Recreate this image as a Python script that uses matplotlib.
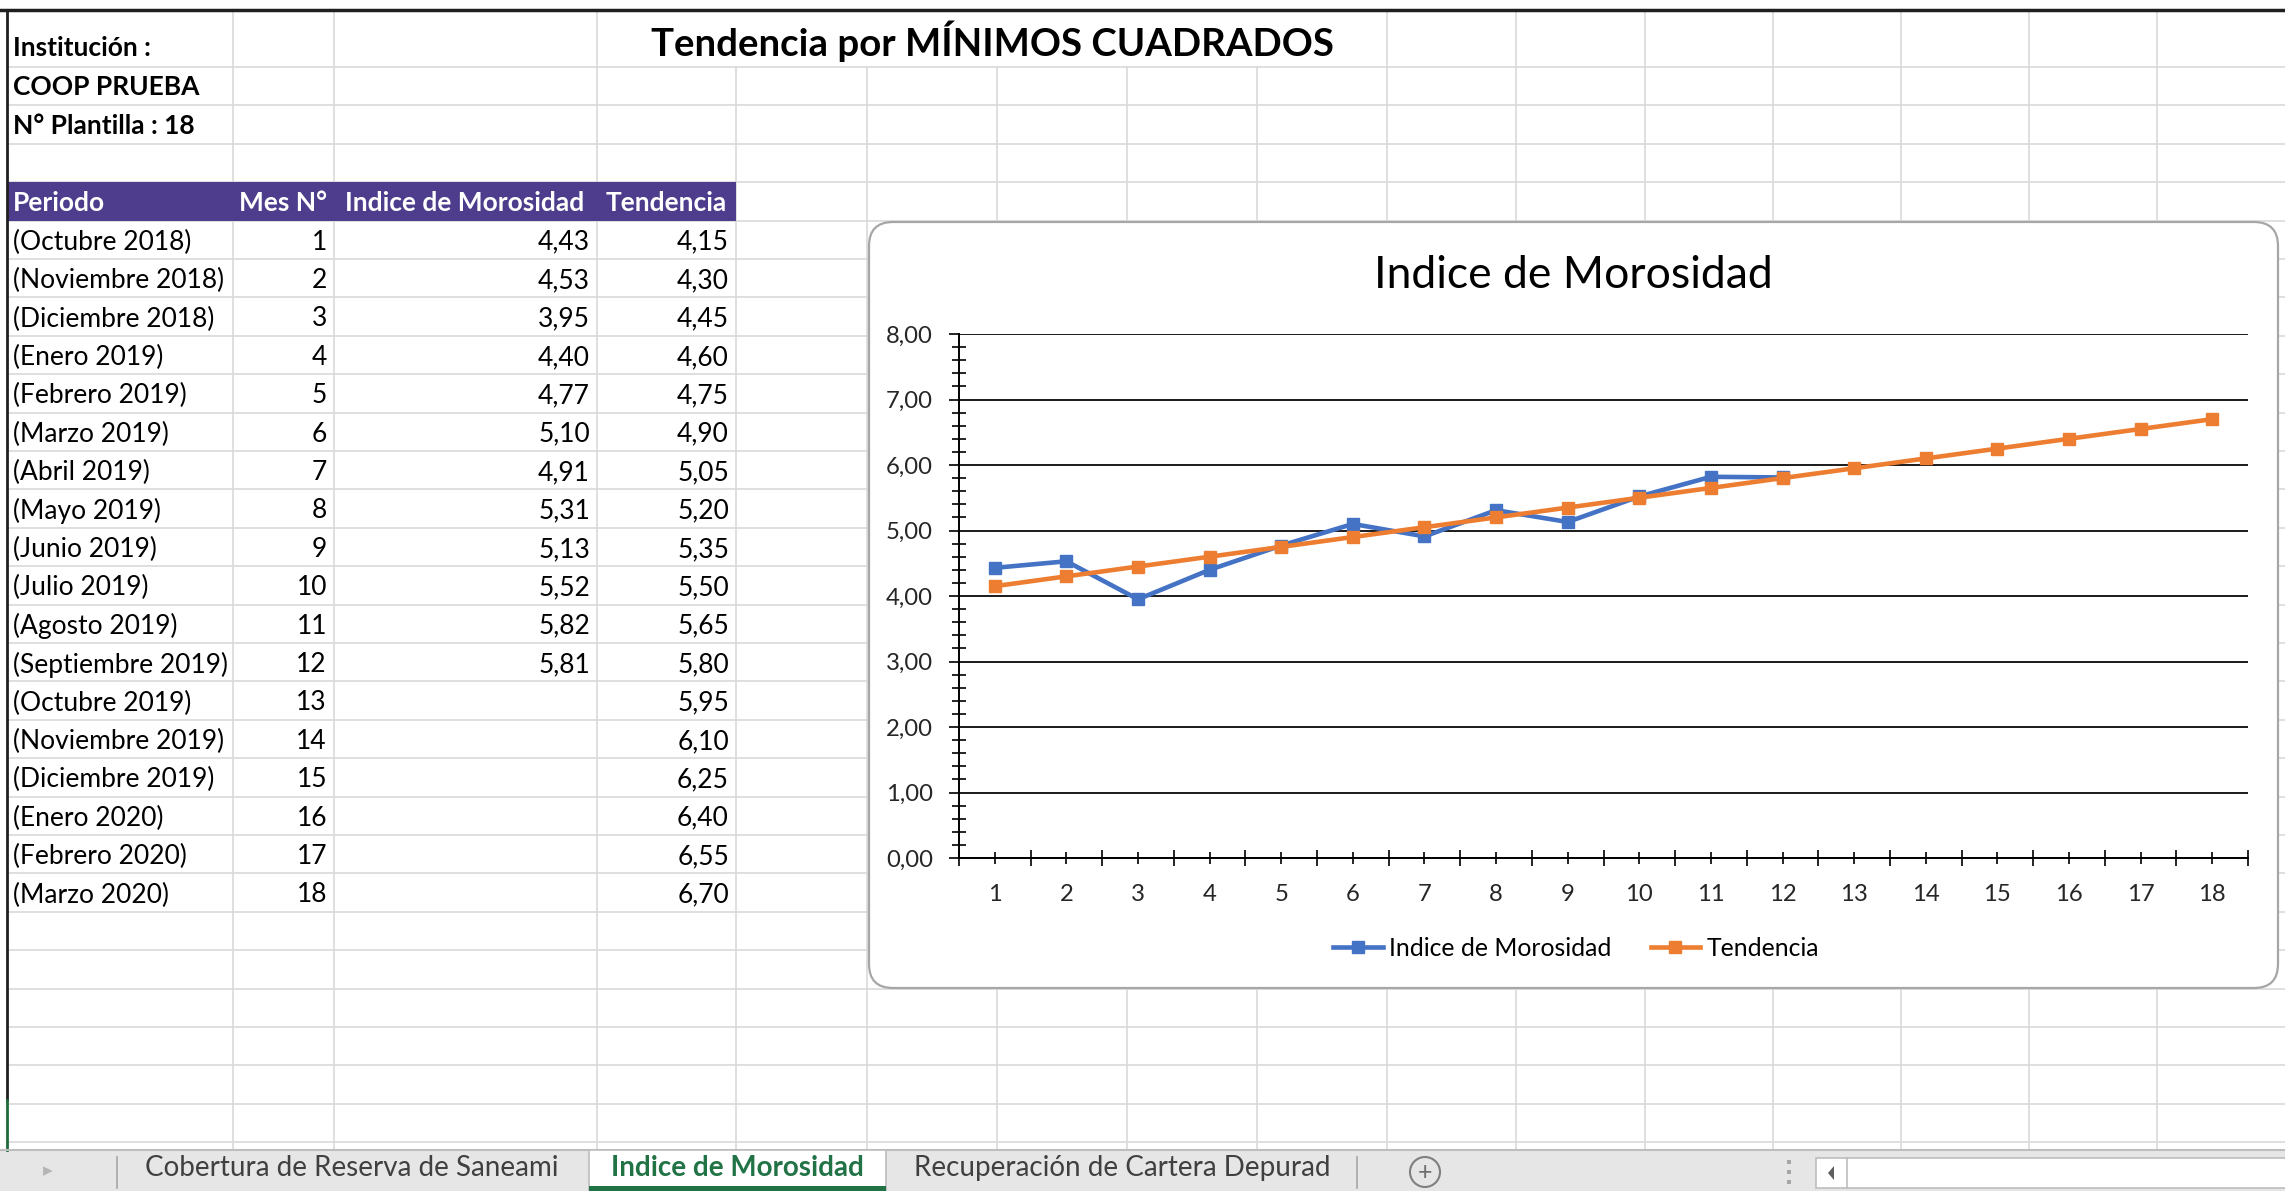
import matplotlib
matplotlib.use("Agg")
import matplotlib.pyplot as plt
from matplotlib.patches import FancyBboxPatch, Rectangle, Circle, Polygon
from matplotlib.ticker import FuncFormatter, MultipleLocator

plt.rcParams["font.family"] = ["Lato", "DejaVu Sans"]

# data
periodos = ["(Octubre 2018)", "(Noviembre 2018)", "(Diciembre 2018)", "(Enero 2019)",
            "(Febrero 2019)", "(Marzo 2019)", "(Abril 2019)", "(Mayo 2019)",
            "(Junio 2019)", "(Julio 2019)", "(Agosto 2019)", "(Septiembre 2019)",
            "(Octubre 2019)", "(Noviembre 2019)", "(Diciembre 2019)", "(Enero 2020)",
            "(Febrero 2020)", "(Marzo 2020)"]
mes_n = [1, 2, 3, 4, 5, 6, 7, 8, 9, 10, 11, 12, 13, 14, 15, 16, 17, 18]
indice_morosidad = [4.43, 4.53, 3.95, 4.40, 4.77, 5.10, 4.91, 5.31, 5.13, 5.52, 5.82, 5.81]
tendencia = [4.15, 4.30, 4.45, 4.60, 4.75, 4.90, 5.05, 5.20, 5.35, 5.50, 5.65, 5.80,
             5.95, 6.10, 6.25, 6.40, 6.55, 6.70]
columnas = ["Periodo", "Mes N°", "Indice de Morosidad", "Tendencia"]
hojas = ["Cobertura de Reserva de Saneami", "Indice de Morosidad", "Recuperación de Cartera Depurad"]

W, H = 2285, 1191
fig = plt.figure(figsize=(22.85, 11.91), dpi=100)
fig.patch.set_facecolor("white")

# whole sheet drawn in pixel coords
bg = fig.add_axes([0, 0, 1, 1])
bg.set_xlim(0, W)
bg.set_ylim(H, 0)
bg.axis("off")


def fmt(v):
    return f"{v:.2f}".replace(".", ",")


grid_color = "#D9D9D9"
col_x = [233, 334, 597, 736, 867, 997, 1127, 1257, 1387, 1516, 1645, 1773, 1901, 2029, 2157]
row_h = 38.4
row_y = [67 + row_h * i for i in range(29)]
tab_top = 1150

for y in row_y:
    bg.plot([7, W], [y, y], color=grid_color, lw=1.2, zorder=1)
for x in col_x:
    if 597 < x < 1387:
        bg.plot([x, x], [67, tab_top], color=grid_color, lw=1.2, zorder=1)
    else:
        bg.plot([x, x], [12, tab_top], color=grid_color, lw=1.2, zorder=1)

# frame lines
bg.plot([0, W], [10, 10], color="#1f1f1f", lw=2.5, zorder=3)
bg.plot([7, 7], [10, 1100], color="#1f1f1f", lw=2, zorder=3)
bg.plot([7, 7], [1100, tab_top], color="#1E6B3A", lw=2, zorder=3)

# top texts
bg.text(13, 48, "Institución :", fontsize=19, fontweight="bold", va="center", zorder=4)
bg.text(13, 87, "COOP PRUEBA", fontsize=19, fontweight="bold", va="center", zorder=4)
bg.text(13, 126, "N° Plantilla : 18", fontsize=19, fontweight="bold", va="center", zorder=4)
bg.text(992, 41, "Tendencia por MÍNIMOS CUADRADOS", fontsize=27.6, fontweight="bold",
        ha="center", va="center", zorder=4)

# header row
bg.add_patch(Rectangle((7, 182), 729, 39, facecolor="#4D3D8C", edgecolor="none", zorder=2))
hy = 203
bg.text(13, hy, columnas[0], color="white", fontsize=19, fontweight="bold", va="center", zorder=4)
bg.text(283, hy, columnas[1], color="white", fontsize=19, fontweight="bold", ha="center", va="center", zorder=4)
bg.text(465, hy, columnas[2], color="white", fontsize=19, fontweight="bold", ha="center", va="center", zorder=4)
bg.text(666, hy, columnas[3], color="white", fontsize=19, fontweight="bold", ha="center", va="center", zorder=4)

# table body
for i, per in enumerate(periodos):
    cy = 221 + row_h * (i + 0.5) + 2
    bg.text(13, cy, per, fontsize=19, va="center", zorder=4)
    bg.text(327, cy, str(mes_n[i]), fontsize=19, ha="right", va="center", zorder=4)
    if i < len(indice_morosidad):
        bg.text(590, cy, fmt(indice_morosidad[i]), fontsize=19, ha="right", va="center", zorder=4)
    bg.text(729, cy, fmt(tendencia[i]), fontsize=19, ha="right", va="center", zorder=4)

# chart frame
bg.add_patch(FancyBboxPatch((869, 222), 2278 - 869, 988 - 222,
                            boxstyle="round,pad=0,rounding_size=24",
                            facecolor="white", edgecolor="#A6A6A6", lw=1.6, zorder=5))
bg.text(1573, 276, "Indice de Morosidad", fontsize=32, ha="center", va="center", zorder=6)

# chart
ax = fig.add_axes([959 / W, 1 - 858 / H, (2248 - 959) / W, (858 - 334) / H])
ax.patch.set_alpha(0)
ax.set_xlim(0.5, 18.5)
ax.set_ylim(0, 8)

blue = "#4472C4"
orange = "#ED7D31"
ax.plot(mes_n[:len(indice_morosidad)], indice_morosidad, color=blue, lw=3.3,
        marker="s", markersize=9, label="Indice de Morosidad", zorder=4)
ax.plot(mes_n, tendencia, color=orange, lw=3.3, marker="s", markersize=9,
        label="Tendencia", zorder=5)

ax.yaxis.set_major_locator(MultipleLocator(1))
ax.yaxis.set_minor_locator(MultipleLocator(0.2))
ax.yaxis.set_major_formatter(FuncFormatter(lambda v, p: fmt(v)))
ax.set_xticks(mes_n)
ax.set_xticklabels([str(m) for m in mes_n])
ax.set_xticks([m - 0.5 for m in mes_n] + [mes_n[-1] + 0.5], minor=True)

ax.grid(axis="y", which="major", color="#1a1a1a", lw=1.4)
for s in ["top", "right"]:
    ax.spines[s].set_visible(False)
ax.spines["left"].set_linewidth(1.4)
ax.spines["bottom"].set_linewidth(1.4)

tick_color = "#262626"
ax.tick_params(axis="x", which="major", direction="inout", length=8.6, width=1.2,
               labelsize=17.2, pad=14.2, labelcolor=tick_color)
ax.tick_params(axis="x", which="minor", direction="inout", length=11.5, width=1.2)
ax.tick_params(axis="y", which="major", direction="out", length=7.2, width=1.2,
               labelsize=17.2, pad=11.5, labelcolor=tick_color)
ax.tick_params(axis="y", which="minor", direction="inout", length=10, width=1.2)

ax.legend(loc="center", bbox_to_anchor=(1576 / W, 1 - 948 / H), bbox_transform=fig.transFigure,
          ncol=2, frameon=False, fontsize=17.8, handlelength=2.0, handletextpad=0.25,
          columnspacing=1.6)

# sheet tabs bar
bg.add_patch(Rectangle((0, tab_top), W, H - tab_top, facecolor="#E6E6E6", edgecolor="none", zorder=2))
bg.plot([0, W], [tab_top, tab_top], color="#BDBDBD", lw=1.5, zorder=3)
bg.add_patch(Rectangle((589, tab_top), 297, H - tab_top, facecolor="white", edgecolor="#BDBDBD", lw=1.2, zorder=3))
bg.add_patch(Rectangle((589, 1186), 297, 5, facecolor="#217346", edgecolor="none", zorder=4))
bg.text(48, 1171, "▸", fontsize=14, color="#B5B5B5", ha="center", va="center", zorder=4,
        family=["DejaVu Sans"])
bg.plot([117, 117], [1157, 1188], color="#A6A6A6", lw=1.2, zorder=4)
bg.text(352, 1168, hojas[0], fontsize=20, color="#404040", ha="center", va="center", zorder=4)
bg.text(737, 1168, hojas[1], fontsize=20, color="#217346", fontweight="bold",
        ha="center", va="center", zorder=4)
bg.text(1122, 1168, hojas[2], fontsize=20, color="#404040", ha="center", va="center", zorder=4)
bg.plot([1357, 1357], [1157, 1188], color="#A6A6A6", lw=1.2, zorder=4)
bg.add_patch(Circle((1425, 1172), 15, facecolor="none", edgecolor="#7F7F7F", lw=1.5, zorder=4))
bg.text(1425, 1172, "+", fontsize=18, color="#6F6F6F", ha="center", va="center", zorder=4)
for dy in [1162, 1172, 1182]:
    bg.add_patch(Rectangle((1787, dy - 2), 4, 4, facecolor="#A6A6A6", edgecolor="none", zorder=4))
bg.add_patch(Rectangle((1816, 1158), W - 1816 + 5, 30, facecolor="white", edgecolor="#BDBDBD", lw=1.2, zorder=4))
bg.plot([1847, 1847], [1158, 1188], color="#BDBDBD", lw=1.2, zorder=5)
bg.add_patch(Polygon([[1834, 1166], [1834, 1180], [1828, 1173]], closed=True,
                     facecolor="#5F5F5F", edgecolor="none", zorder=5))

fig.savefig("out.png", dpi=100)
